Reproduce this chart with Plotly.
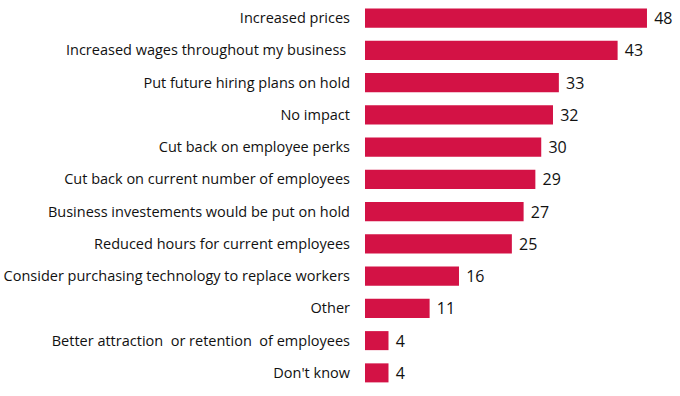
import plotly.graph_objects as go

categories = [
    "Increased prices",
    "Increased wages throughout my business ",
    "Put future hiring plans on hold",
    "No impact",
    "Cut back on employee perks",
    "Cut back on current number of employees",
    "Business investements would be put on hold",
    "Reduced hours for current employees",
    "Consider purchasing technology to replace workers",
    "Other",
    "Better attraction  or retention  of employees",
    "Don't know",
]
values = [48, 43, 33, 32, 30, 29, 27, 25, 16, 11, 4, 4]

bar_color = "#D31245"

fig = go.Figure(
    go.Bar(
        x=values,
        y=categories,
        orientation="h",
        marker=dict(color=bar_color, line=dict(width=0)),
        text=[f" {v}" for v in values],
        textposition="outside",
        constraintext="none",
        textfont=dict(family="Open Sans", size=16, color="#111111"),
        cliponaxis=False,
        hoverinfo="skip",
    )
)

fig.update_layout(
    width=680,
    height=396,
    margin=dict(l=365, r=5, t=2, b=7),
    paper_bgcolor="white",
    plot_bgcolor="white",
    bargap=0.41,
    showlegend=False,
    font=dict(family="Open Sans", size=14.5, color="#111111"),
)
fig.update_xaxes(
    range=[0, 52.77],
    visible=False,
    showgrid=False,
    zeroline=False,
    automargin=False,
)
fig.update_yaxes(
    autorange="reversed",
    showgrid=False,
    zeroline=False,
    showline=False,
    ticks="",
    automargin=False,
    ticklabelstandoff=14,
    tickfont=dict(family="Open Sans", size=14.5, color="#111111"),
)

fig.write_html(
    "out.html",
    config={"displayModeBar": False},
    post_script="document.body.style.margin='0';document.body.style.overflow='hidden';",
)
